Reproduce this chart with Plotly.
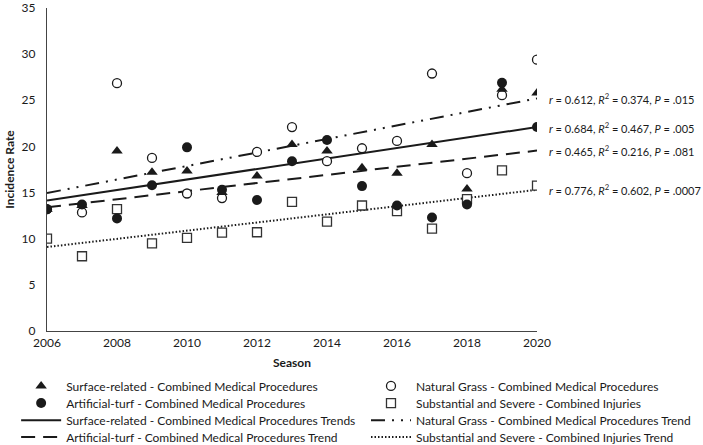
import plotly.graph_objects as go

seasons = list(range(2006, 2021))

surface_related = [13.2, 13.6, 19.5, 17.2, 17.35, 15.0, 16.8, 20.2, 19.5, 17.7, 17.1, 20.2, 15.4, 26.2, 25.8]
natural_grass = [13.2, 12.85, 26.85, 18.75, 14.9, 14.4, 19.4, 22.1, 18.4, 19.8, 20.6, 27.9, 17.1, 25.55, 29.4]
artificial_turf = [13.2, 13.7, 12.2, 15.8, 19.9, 15.3, 14.2, 18.4, 20.7, 15.7, 13.6, 12.3, 13.7, 26.9, 22.1]
substantial_severe = [10.0, 8.1, 13.2, 9.5, 10.1, 10.65, 10.7, 14.0, 11.85, 13.6, 13.0, 11.1, 14.3, 17.4, 15.75]

# Trend line values at first and last season
trend_seasons = [2006, 2020]
surface_trend = [14.15, 22.1]
natural_trend = [14.95, 25.2]
artificial_trend = [13.4, 19.55]
substantial_trend = [9.1, 15.3]

stats_labels = [
    "<i>r</i> = 0.612, <i>R</i><sup>2</sup> = 0.374, <i>P</i> = .015",
    "<i>r</i> = 0.684, <i>R</i><sup>2</sup> = 0.467, <i>P</i> = .005",
    "<i>r</i> = 0.465, <i>R</i><sup>2</sup> = 0.216, <i>P</i> = .081",
    "<i>r</i> = 0.776, <i>R</i><sup>2</sup> = 0.602, <i>P</i> = .0007",
]
stats_y = [natural_trend[1], surface_trend[1], artificial_trend[1], substantial_trend[1]]

FONT = "Lato, Carlito, Liberation Sans, sans-serif"
INK = "#1a1a1a"

fig = go.Figure()

# Trend lines (drawn first, below markers)
fig.add_trace(go.Scatter(x=trend_seasons, y=surface_trend, mode="lines",
                         line=dict(color=INK, width=2, dash="solid"), legend="legend5",
                         name="Surface-related - Combined Medical Procedures Trends"))
fig.add_trace(go.Scatter(x=trend_seasons, y=natural_trend, mode="lines",
                         line=dict(color=INK, width=2, dash="14px,7px,2px,7px,2px,7px"), legend="legend6",
                         name="Natural Grass - Combined Medical Procedures Trend"))
fig.add_trace(go.Scatter(x=trend_seasons, y=artificial_trend, mode="lines",
                         line=dict(color=INK, width=2, dash="14px,8px"), legend="legend7",
                         name="Artificial-turf - Combined Medical Procedures Trend"))
fig.add_trace(go.Scatter(x=trend_seasons, y=substantial_trend, mode="lines",
                         line=dict(color=INK, width=2, dash="1.5px,2px"), legend="legend8",
                         name="Substantial and Severe - Combined Injuries Trend"))

# Markers
fig.add_trace(go.Scatter(x=seasons, y=substantial_severe, mode="markers", legend="legend4",
                         marker=dict(symbol="square", size=9, color="white", line=dict(color="#333", width=1.3)),
                         name="Substantial and Severe - Combined Injuries"))
fig.add_trace(go.Scatter(x=seasons, y=natural_grass, mode="markers", legend="legend2",
                         marker=dict(symbol="circle", size=9, color="white", line=dict(color=INK, width=1.3)),
                         name="Natural Grass - Combined Medical Procedures"))
fig.add_trace(go.Scatter(x=seasons, y=surface_related, mode="markers", legend="legend",
                         marker=dict(symbol="triangle-up", size=10, color=INK, line=dict(width=0)),
                         name="Surface-related - Combined Medical Procedures"))
fig.add_trace(go.Scatter(x=seasons, y=artificial_turf, mode="markers", legend="legend3",
                         marker=dict(symbol="circle", size=10, color=INK, line=dict(width=0)),
                         name="Artificial-turf - Combined Medical Procedures"))

for txt, yv in zip(stats_labels, stats_y):
    fig.add_annotation(x=2020, y=yv, xref="x", yref="y", text=txt, showarrow=False,
                       xanchor="left", xshift=10, font=dict(family=FONT, size=11, color=INK))

# Legend grid: 2 columns x 4 rows, one legend box per entry
col_x = [-0.063, 0.651]
row_y = [-0.170, -0.223, -0.276, -0.328]
legend_common = dict(orientation="v", yanchor="middle", xanchor="left",
                     itemwidth=40, font=dict(family=FONT, size=12, color=INK),
                     bgcolor="rgba(0,0,0,0)")
legend_keys = ["legend", "legend2", "legend3", "legend4", "legend5", "legend6", "legend7", "legend8"]
legends = {}
for i, key in enumerate(legend_keys):
    row, col = divmod(i, 2)
    legends[key] = dict(x=col_x[col], y=row_y[row], **legend_common)

fig.update_layout(
    width=703, height=445,
    margin=dict(l=47, r=166, t=8, b=114, autoexpand=False),
    paper_bgcolor="white", plot_bgcolor="white",
    font=dict(family=FONT, size=12, color=INK),
    showlegend=True,
    **legends,
)
fig.update_xaxes(range=[2006, 2020], tickmode="array", tickvals=list(range(2006, 2021, 2)),
                 showgrid=False, zeroline=False, showline=True, linecolor="#444", linewidth=1.3,
                 ticks="", tickfont=dict(size=12), automargin=True,
                 title=dict(text="<b>Season</b>", font=dict(size=12), standoff=10))
fig.update_yaxes(range=[0, 35], tickmode="array", tickvals=list(range(0, 36, 5)),
                 showgrid=False, zeroline=False, showline=True, linecolor="#444", linewidth=1.3,
                 ticks="", tickfont=dict(size=12), ticklabelstandoff=8, automargin=True,
                 title=dict(text="<b>Incidence Rate</b>", font=dict(size=12), standoff=4))

fig.write_html("out.html", config={"displayModeBar": False},
               post_script="document.body.style.margin='0';")
